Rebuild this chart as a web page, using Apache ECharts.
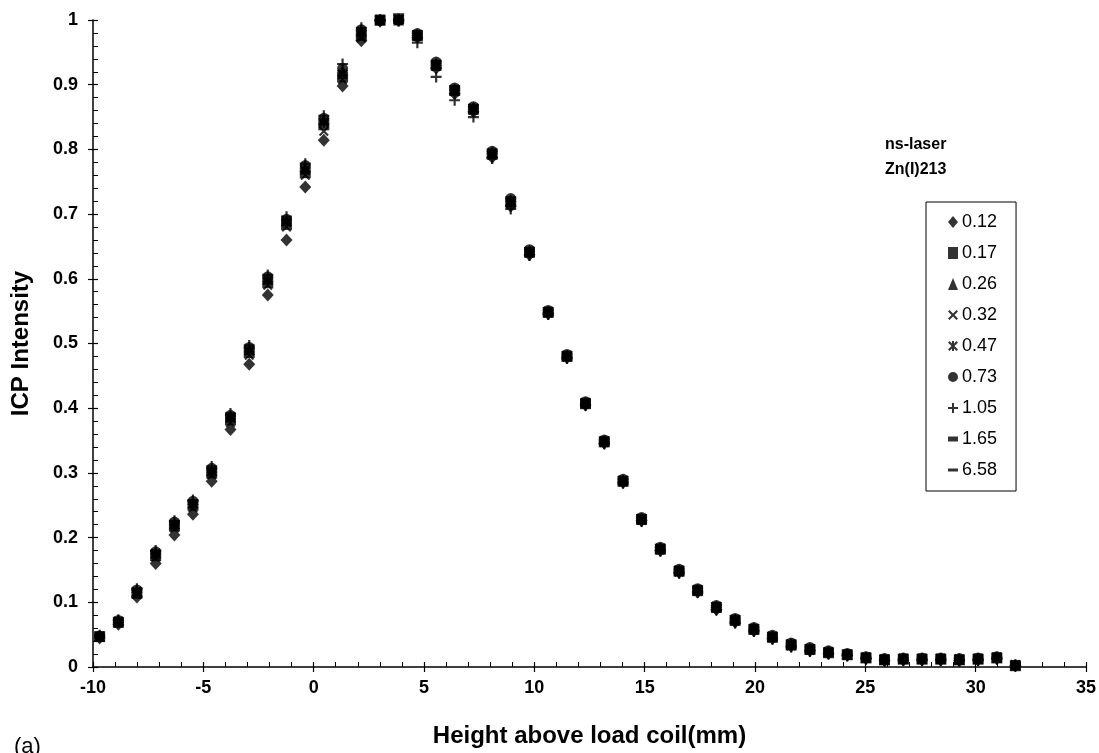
<!DOCTYPE html>
<html>
<head>
<meta charset="utf-8">
<script src="https://cdn.jsdelivr.net/npm/echarts@6/dist/echarts.min.js"></script>
<style>
  html, body { margin: 0; padding: 0; background: #fff; }
  #chart { width: 1099px; height: 753px; }
</style>
</head>
<body>
<div id="chart"></div>
<script>
// height above load coil (mm)
var heights = [-9.70,-8.85,-8.01,-7.16,-6.31,-5.47,-4.62,-3.77,-2.92,-2.08,-1.23,-0.38,0.46,1.31,2.16,3.01,3.85,4.70,5.55,6.39,
  7.24,8.09,8.93,9.78,10.63,11.48,12.32,13.17,14.02,14.86,15.71,16.56,17.40,18.25,19.10,19.95,20.79,21.64,22.49,23.33,
  24.18,25.03,25.87,26.72,27.57,28.42,29.26,30.11,30.96,31.80];

var seriesNames = ['0.12','0.17','0.26','0.32','0.47','0.73','1.05','1.65','6.58'];

var i012 = [0.045,0.066,0.108,0.160,0.204,0.236,0.287,0.367,0.468,0.575,0.660,0.742,0.814,0.898,0.968,0.998,1.000,0.973,0.926,0.886,0.858,0.788,0.712,0.637,0.546,0.478,0.405,0.346,0.285,0.226,0.180,0.146,0.116,0.089,0.069,0.056,0.044,0.032,0.025,0.021,0.018,0.013,0.010,0.011,0.011,0.011,0.010,0.011,0.013,0.002];
var i017 = [0.047,0.069,0.114,0.172,0.218,0.250,0.300,0.382,0.486,0.594,0.684,0.764,0.838,0.912,0.976,1.000,1.002,0.976,0.930,0.891,0.862,0.793,0.719,0.641,0.548,0.480,0.407,0.348,0.287,0.228,0.182,0.148,0.118,0.092,0.072,0.058,0.046,0.034,0.027,0.022,0.019,0.014,0.011,0.012,0.012,0.012,0.011,0.012,0.014,0.002];
var i026 = [0.048,0.071,0.118,0.177,0.222,0.254,0.305,0.387,0.491,0.600,0.690,0.772,0.846,0.922,0.984,1.000,1.000,0.978,0.934,0.894,0.865,0.796,0.722,0.644,0.550,0.482,0.409,0.350,0.289,0.230,0.184,0.150,0.120,0.094,0.074,0.060,0.048,0.036,0.029,0.024,0.020,0.015,0.012,0.013,0.013,0.013,0.012,0.013,0.015,0.003];
var i032 = [0.046,0.068,0.112,0.170,0.215,0.246,0.297,0.378,0.482,0.590,0.680,0.760,0.828,0.908,0.972,1.000,1.000,0.975,0.928,0.889,0.861,0.791,0.716,0.640,0.547,0.479,0.406,0.347,0.286,0.227,0.181,0.147,0.117,0.091,0.071,0.057,0.045,0.033,0.026,0.022,0.018,0.014,0.011,0.012,0.012,0.012,0.011,0.012,0.014,0.002];
var i047 = [0.047,0.070,0.116,0.175,0.220,0.252,0.302,0.385,0.489,0.598,0.688,0.768,0.842,0.916,0.980,1.000,1.001,0.977,0.931,0.892,0.863,0.794,0.720,0.642,0.549,0.481,0.408,0.349,0.288,0.229,0.183,0.149,0.119,0.093,0.073,0.059,0.047,0.035,0.028,0.023,0.019,0.015,0.012,0.013,0.013,0.013,0.012,0.013,0.015,0.003];
var i073 = [0.048,0.072,0.119,0.178,0.224,0.256,0.307,0.389,0.494,0.603,0.692,0.775,0.848,0.925,0.985,1.000,1.000,0.979,0.935,0.895,0.866,0.797,0.724,0.645,0.551,0.483,0.410,0.351,0.290,0.231,0.185,0.151,0.121,0.095,0.075,0.061,0.049,0.037,0.030,0.025,0.021,0.016,0.013,0.014,0.014,0.014,0.013,0.014,0.016,0.003];
var i105 = [0.049,0.073,0.121,0.180,0.226,0.258,0.310,0.392,0.497,0.606,0.696,0.778,0.852,0.932,0.988,1.000,0.998,0.965,0.912,0.876,0.850,0.786,0.708,0.636,0.545,0.477,0.404,0.345,0.284,0.225,0.179,0.145,0.115,0.088,0.068,0.055,0.043,0.031,0.024,0.020,0.017,0.012,0.009,0.010,0.010,0.010,0.009,0.010,0.012,0.001];
var i165 = [0.048,0.070,0.117,0.176,0.221,0.253,0.304,0.386,0.490,0.599,0.689,0.770,0.844,0.920,0.982,1.000,1.000,0.977,0.932,0.893,0.864,0.795,0.721,0.643,0.550,0.481,0.408,0.349,0.288,0.229,0.183,0.149,0.119,0.093,0.073,0.059,0.047,0.035,0.028,0.023,0.019,0.015,0.012,0.013,0.013,0.013,0.012,0.013,0.015,0.003];
var i658 = [0.047,0.069,0.115,0.173,0.219,0.251,0.301,0.383,0.487,0.596,0.686,0.766,0.840,0.914,0.978,1.000,1.001,0.976,0.930,0.891,0.862,0.793,0.719,0.641,0.548,0.480,0.407,0.348,0.287,0.228,0.182,0.148,0.118,0.092,0.072,0.058,0.046,0.034,0.027,0.022,0.019,0.014,0.011,0.012,0.012,0.012,0.011,0.012,0.014,0.002];

var intensities = [i012, i017, i026, i032, i047, i073, i105, i165, i658];

// marker shapes, same order as the legend
var markers = [
  { symbol: 'diamond', size: [12, 13] },
  { symbol: 'rect', size: 11 },
  { symbol: 'triangle', size: 11 },
  { symbol: 'path://M0,1.5L1.5,0L5,3.5L8.5,0L10,1.5L6.5,5L10,8.5L8.5,10L5,6.5L1.5,10L0,8.5L3.5,5Z', size: 10 },
  { symbol: 'path://M0,1.5L1.5,0L5,3.5L8.5,0L10,1.5L6.5,5L10,8.5L8.5,10L5,6.5L1.5,10L0,8.5L3.5,5Z M4,0L6,0L6,10L4,10Z', size: 11 },
  { symbol: 'circle', size: 11 },
  { symbol: 'path://M4,0L6,0L6,4L10,4L10,6L6,6L6,10L4,10L4,6L0,6L0,4L4,4Z', size: 11 },
  { symbol: 'path://M0,0L6,0L6,3L0,3Z', size: [6, 3] },
  { symbol: 'path://M0,0L10,0L10,3L0,3Z', size: [11, 3] }
];

var font = 'Liberation Sans, Arial, sans-serif';

var series = seriesNames.map(function (name, n) {
  return {
    name: name,
    type: 'scatter',
    xAxisIndex: 0,
    yAxisIndex: 0,
    clip: false,
    symbol: markers[n].symbol,
    symbolSize: markers[n].size,
    symbolKeepAspect: true,
    itemStyle: { color: '#000' },
    data: heights.map(function (h, k) { return [h, intensities[n][k]]; })
  };
});

var chart = echarts.init(document.getElementById('chart'));
chart.setOption({
  animation: false,
  backgroundColor: '#fff',
  grid: { left: 93, right: 13, top: 20, bottom: 83 },
  legend: {
    orient: 'vertical',
    left: 926,
    top: 202,
    data: seriesNames,
    backgroundColor: '#fff',
    borderColor: '#000',
    borderWidth: 1,
    borderRadius: 0,
    padding: [11, 19, 12, 22],
    itemGap: 13,
    itemWidth: 10,
    itemHeight: 12,
    itemStyle: { color: '#000' },
    textStyle: { color: '#000', fontFamily: font, fontSize: 18, padding: [0, 0, 0, -1] }
  },
  xAxis: [{
    type: 'value',
    min: -10, max: 35, interval: 5,
    name: 'Height above load coil(mm)',
    nameLocation: 'middle',
    nameGap: 57,
    nameTextStyle: { color: '#000', fontFamily: font, fontSize: 24, fontWeight: 'bold' },
    axisLine: { onZero: false, lineStyle: { color: '#000', width: 1.5 } },
    axisTick: { length: 5, lineStyle: { color: '#000', width: 1.2 } },
    axisLabel: { color: '#000', fontFamily: font, fontSize: 18, fontWeight: 'bold', margin: 12 },
    splitLine: { show: false }
  }, {
    type: 'value',
    min: -10, max: 35, interval: 5,
    position: 'bottom',
    axisLine: { show: false, onZero: false },
    axisTick: { inside: true, length: 5, lineStyle: { color: '#000', width: 1.2 } },
    minorTick: { show: true, splitNumber: 5, length: 5, lineStyle: { color: '#000', width: 1 } },
    axisLabel: { show: false },
    splitLine: { show: false }
  }],
  yAxis: [{
    type: 'value',
    min: 0, max: 1, interval: 0.1,
    name: 'ICP Intensity',
    nameLocation: 'middle',
    nameGap: 60,
    nameTextStyle: { color: '#000', fontFamily: font, fontSize: 24, fontWeight: 'bold' },
    axisLine: { show: true, onZero: false, lineStyle: { color: '#000', width: 1.5 } },
    axisTick: { show: true, length: 5, lineStyle: { color: '#000', width: 1.2 } },
    axisLabel: { color: '#000', fontFamily: font, fontSize: 18, fontWeight: 'bold', margin: 15 },
    splitLine: { show: false }
  }, {
    type: 'value',
    min: 0, max: 1, interval: 0.1,
    position: 'left',
    axisLine: { show: false, onZero: false },
    axisTick: { show: true, inside: true, length: 5, lineStyle: { color: '#000', width: 1.2 } },
    minorTick: { show: true, splitNumber: 5, length: 5, lineStyle: { color: '#000', width: 1 } },
    axisLabel: { show: false },
    splitLine: { show: false }
  }],
  graphic: [
    { type: 'text', left: 885, top: 137, style: { text: 'ns-laser', fill: '#000', font: 'bold 16px ' + font } },
    { type: 'text', left: 885, top: 162, style: { text: 'Zn(I)213', fill: '#000', font: 'bold 16px ' + font } },
    { type: 'text', left: 14, top: 736, style: { text: '(a)', fill: '#000', font: '22px ' + font } }
  ],
  series: series
});
</script>
</body>
</html>
